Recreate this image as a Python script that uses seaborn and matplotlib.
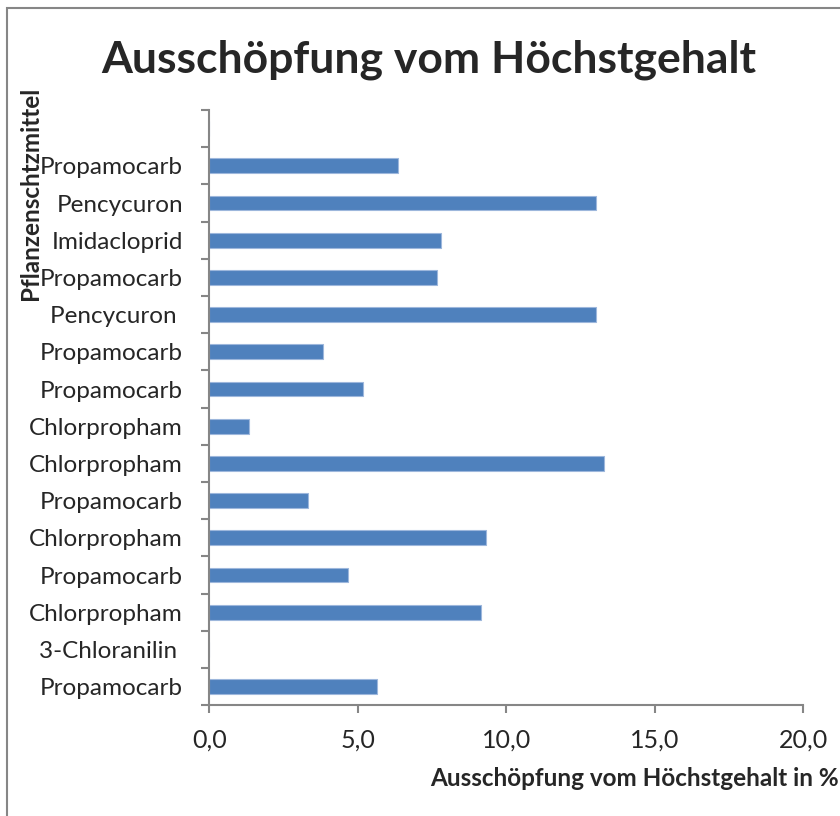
import numpy as np
import pandas as pd
import matplotlib
matplotlib.use("Agg")
import matplotlib.pyplot as plt
import seaborn as sns
from matplotlib.patches import Rectangle

# ── Daten (von oben nach unten) ───────────────────────────────
wirkstoffe = ["", "Propamocarb", "Pencycuron", "Imidacloprid", "Propamocarb",
              "Pencycuron ", "Propamocarb", "Propamocarb", "Chlorpropham",
              "Chlorpropham", "Propamocarb", "Chlorpropham", "Propamocarb",
              "Chlorpropham", "3-Chloranilin ", "Propamocarb"]
ausschoepfung = [0.0, 6.34, 13.01, 7.80, 7.67, 13.01, 3.84, 5.17, 1.34,
                 13.28, 3.34, 9.32, 4.66, 9.15, 0.0, 5.66]
x_ticks = [0, 5, 10, 15, 20]
x_ticklabels = ["0,0", "5,0", "10,0", "15,0", "20,0"]

BAR_COLOR = "#4F81BD"
AXIS_GRAY = "#868686"

sns.set_theme(style="white")
plt.rcParams["font.family"] = ["Lato", "DejaVu Sans"]

df = pd.DataFrame({
    "slot": [str(i) for i in range(len(wirkstoffe))],
    "wert": ausschoepfung,
})

fig = plt.figure(figsize=(8.4, 8.16), dpi=100)
ax = fig.add_axes([0.2492, 0.1357, 0.9560 - 0.2492, 0.8652 - 0.1357])

sns.barplot(data=df, x="wert", y="slot", orient="h", color=BAR_COLOR,
            saturation=1, width=0.4, edgecolor="#9DB7DC", linewidth=0.8,
            ax=ax)

ax.set_xlim(0, 20)
ax.set_ylim(len(wirkstoffe) - 0.5, -0.5)

# Achsen im Excel-Stil
for side in ["top", "right"]:
    ax.spines[side].set_visible(False)
for side in ["left", "bottom"]:
    ax.spines[side].set_color(AXIS_GRAY)
    ax.spines[side].set_linewidth(1.5)

ax.set_xticks(x_ticks)
ax.set_xticklabels(x_ticklabels, fontsize=18)
ax.tick_params(axis="x", direction="out", length=6, width=1.5,
               color=AXIS_GRAY, pad=11, bottom=True)

# Teilstriche zwischen den Kategorien, Beschriftung mittig
ax.set_yticks(np.arange(len(wirkstoffe)))
ax.set_yticklabels(wirkstoffe, fontsize=17.5)
ax.tick_params(axis="y", which="major", length=0, pad=19)
ax.set_yticks(np.arange(len(wirkstoffe) + 1) - 0.5, minor=True)
ax.tick_params(axis="y", which="minor", direction="out", length=6,
               width=1.5, color=AXIS_GRAY, left=True)

ax.set_xlabel("")
ax.set_ylabel("")
ax.grid(False)

fig.text(0.511, 1 - 60 / 816, "Ausschöpfung vom Höchstgehalt",
         ha="center", va="center", fontsize=32, fontweight="bold")
fig.text(31 / 840, 1 - 193 / 816, "Pflanzenschtzmittel", rotation=90,
         ha="center", va="center", fontsize=17.5, fontweight="bold")
fig.text(430 / 840, 1 - 778 / 816, "Ausschöpfung vom Höchstgehalt in %",
         ha="left", va="center", fontsize=17.5, fontweight="bold")

# Diagrammrahmen
fig.patches.append(Rectangle((7 / 840, -0.1), 1.2, 1 - 7.5 / 816 + 0.1,
                             transform=fig.transFigure, fill=False,
                             edgecolor=AXIS_GRAY, linewidth=1.5))

fig.savefig("out.png", dpi=100)
plt.close(fig)
